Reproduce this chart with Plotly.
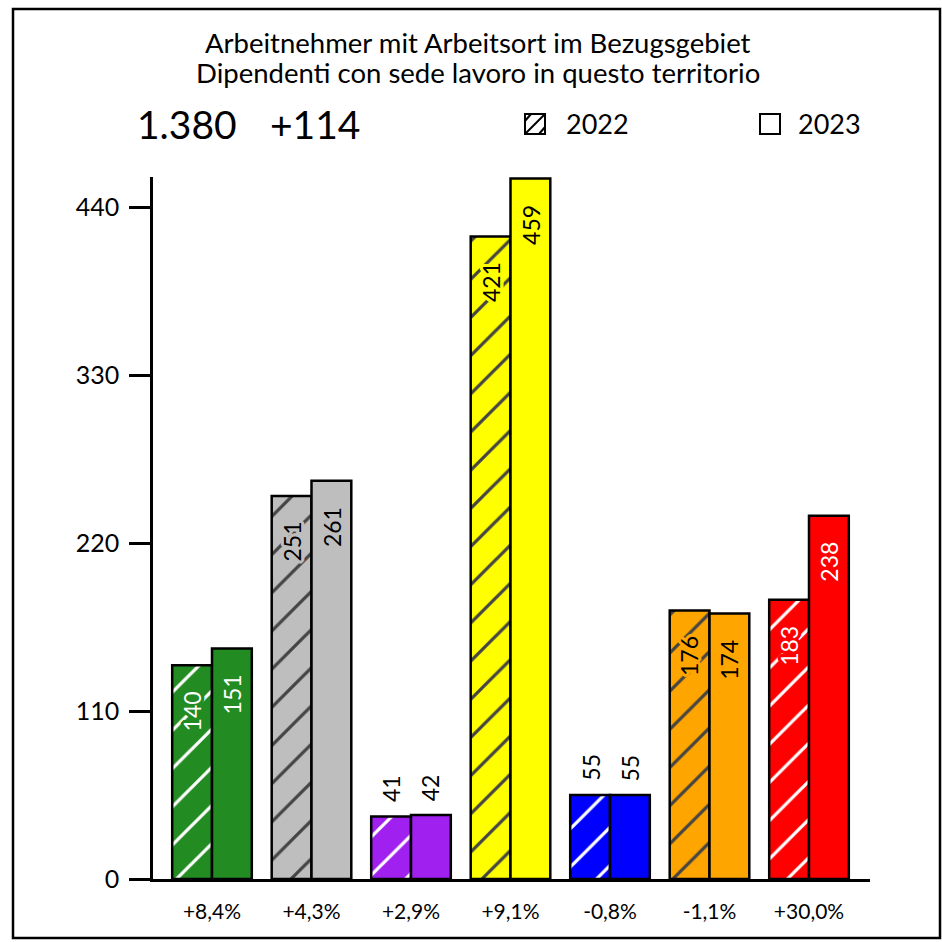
import plotly.graph_objects as go

# ---------------- data ----------------
categories = ["+8,4%", "+4,3%", "+2,9%", "+9,1%", "-0,8%", "-1,1%", "+30,0%"]
values_2022 = [140, 251, 41, 421, 55, 176, 183]
values_2023 = [151, 261, 42, 459, 55, 174, 238]
bar_colors = ["#228B22", "#BEBEBE", "#A020F0", "#FFFF00", "#0000FF", "#FFA500", "#FF0000"]
hatch_colors = ["white", "black", "white", "black", "white", "black", "white"]
label_colors = ["white", "black", "white", "black", "white", "black", "white"]
y_ticks = [0, 110, 220, 330, 440]
title_lines = ["Arbeitnehmer mit Arbeitsort im Bezugsgebiet",
               "Dipendenti con sede lavoro in questo territorio"]
total_text = "1.380"
change_text = "+114"
series_names = ["2022", "2023"]

FONT = "Lato"
W, H = 942, 942
L, R, T, B = 153, 870, 177, 879


def px_x(px):
    return (px - L) / (R - L)


def px_y(py):
    return (B - py) / (B - T)


def halo(c):
    offs = []
    for dx in range(-3, 4):
        for dy in range(-3, 4):
            if dx * dx + dy * dy <= 10:
                offs.append(f"{dx}px {dy}px 0 {c}")
    return ", ".join(offs)


xs = list(range(len(categories)))

fig = go.Figure()
fig.add_trace(go.Bar(
    x=xs, y=values_2022, name=series_names[0],
    marker=dict(color=bar_colors, line=dict(color="black", width=2.5),
                pattern=dict(shape="/", fgcolor=hatch_colors, fgopacity=1,
                             size=27, solidity=0.12)),
    hoverinfo="skip",
))
fig.add_trace(go.Bar(
    x=xs, y=values_2023, name=series_names[1],
    marker=dict(color=bar_colors, line=dict(color="black", width=2.5)),
    hoverinfo="skip",
))

annotations = []
for i in xs:
    for off, v in ((-0.2, values_2022[i]), (0.2, values_2023[i])):
        inside = v > 100
        annotations.append(dict(
            x=i + off, y=v, xref="x", yref="y", text=str(v), showarrow=False,
            textangle=-90,
            yanchor="top" if inside else "bottom",
            yshift=-24 if inside else 12,
            font=dict(family=FONT, size=23,
                      color=label_colors[i] if inside else "black",
                      shadow=halo(bar_colors[i]) if inside else "none"),
        ))

# title and header texts
annotations.append(dict(x=px_x(478), y=px_y(42), xref="paper", yref="paper",
                        text=title_lines[0], showarrow=False, xanchor="center", yanchor="middle",
                        font=dict(family=FONT, size=27.5, color="black")))
annotations.append(dict(x=px_x(478), y=px_y(72), xref="paper", yref="paper",
                        text=title_lines[1], showarrow=False, xanchor="center", yanchor="middle",
                        font=dict(family=FONT, size=27.5, color="black")))
annotations.append(dict(x=px_x(135), y=px_y(124), xref="paper", yref="paper",
                        text=total_text, showarrow=False, xanchor="left", yanchor="middle",
                        font=dict(family=FONT, size=39, color="black")))
annotations.append(dict(x=px_x(268), y=px_y(124), xref="paper", yref="paper",
                        text=change_text, showarrow=False, xanchor="left", yanchor="middle",
                        font=dict(family=FONT, size=39, color="black")))
annotations.append(dict(x=px_x(564), y=px_y(124), xref="paper", yref="paper",
                        text=series_names[0], showarrow=False, xanchor="left", yanchor="middle",
                        font=dict(family=FONT, size=27, color="black")))
annotations.append(dict(x=px_x(796), y=px_y(124), xref="paper", yref="paper",
                        text=series_names[1], showarrow=False, xanchor="left", yanchor="middle",
                        font=dict(family=FONT, size=27, color="black")))

shapes = [
    # outer frame
    dict(type="rect", xref="paper", yref="paper", x0=px_x(13), x1=px_x(940),
         y0=px_y(938), y1=px_y(9), line=dict(color="black", width=2.5)),
    # legend boxes
    dict(type="rect", xref="paper", yref="paper", x0=px_x(525), x1=px_x(545),
         y0=px_y(134), y1=px_y(114), line=dict(color="black", width=2)),
    dict(type="line", xref="paper", yref="paper", x0=px_x(525), x1=px_x(545),
         y0=px_y(134), y1=px_y(114), line=dict(color="black", width=2)),
    dict(type="line", xref="paper", yref="paper", x0=px_x(525), x1=px_x(531),
         y0=px_y(121), y1=px_y(114), line=dict(color="black", width=2)),
    dict(type="line", xref="paper", yref="paper", x0=px_x(539), x1=px_x(545),
         y0=px_y(134), y1=px_y(127), line=dict(color="black", width=2)),
    dict(type="rect", xref="paper", yref="paper", x0=px_x(760), x1=px_x(780),
         y0=px_y(134), y1=px_y(114), line=dict(color="black", width=2)),
]

spacing = 99.5
x0_px = 212
fig.update_layout(
    width=W, height=H, autosize=False,
    margin=dict(l=L, r=W - R, t=T, b=H - B, pad=0),
    paper_bgcolor="white", plot_bgcolor="white",
    barmode="group", bargap=0.2, bargroupgap=0,
    showlegend=False,
    annotations=annotations, shapes=shapes,
    xaxis=dict(range=[(L - x0_px) / spacing, (R - x0_px) / spacing],
               tickvals=xs, ticktext=categories, ticks="",
               showline=True, linecolor="black", linewidth=2.5,
               showgrid=False, zeroline=False, ticklabelstandoff=12,
               tickfont=dict(family=FONT, size=21, color="black"), fixedrange=True),
    yaxis=dict(range=[0, 460], tickvals=y_ticks, ticks="outside", ticklen=21,
               tickwidth=2.5, tickcolor="black",
               showline=True, linecolor="black", linewidth=2.5,
               showgrid=False, zeroline=False, ticklabelstandoff=5,
               tickfont=dict(family=FONT, size=25, color="black"), fixedrange=True),
)

fig.write_html("out.html", config={"displayModeBar": False},
               post_script="document.body.style.margin='0px';")
